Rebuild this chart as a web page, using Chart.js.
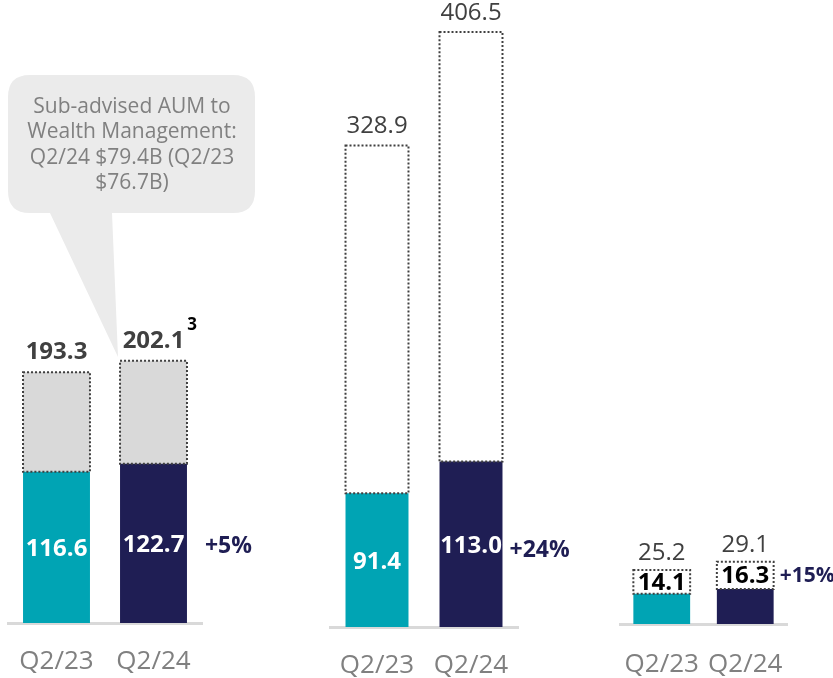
<!DOCTYPE html>
<html>
<head>
<meta charset="utf-8">
<script src="https://cdn.jsdelivr.net/npm/chart.js@4.4.1/dist/chart.umd.min.js"></script>
<style>
  html, body { margin: 0; padding: 0; background: #ffffff; }
  body { width: 833px; height: 678px; position: relative; overflow: hidden; }
  .panel { position: absolute; top: 0; height: 678px; }
</style>
</head>
<body>
<div class="panel" style="left:0;width:300px;"><canvas id="c1"></canvas></div>
<div class="panel" style="left:300px;width:300px;"><canvas id="c2"></canvas></div>
<div class="panel" style="left:600px;width:233px;"><canvas id="c3"></canvas></div>
<script>
// ---- data ----
const categories = ['Q2/23', 'Q2/24'];
const wealthBase = [116.6, 122.7];
const wealthTotal = [193.3, 202.1];
const instBase = [91.4, 113.0];
const instTotal = [328.9, 406.5];
const retailBase = [14.1, 16.3];
const retailTotal = [25.2, 29.1];
const growthLabels = ['+5%', '+24%', '+15%'];
const calloutLines = ['Sub-advised AUM to', 'Wealth Management:', 'Q2/24 $79.4B (Q2/23', '$76.7B)'];
const footnoteMark = '3';
const clippedHeader = 'investments';

const TEAL = '#00a4b4';
const NAVY = '#1f1e54';
const FONT = "'Open Sans', 'DejaVu Sans', sans-serif";

function dottedRect(ctx, x0, y0, x1, y1) {
  ctx.save();
  ctx.strokeStyle = '#404040';
  ctx.lineWidth = 2;
  ctx.setLineDash([2, 2]);
  ctx.strokeRect(x0, y0, x1 - x0, y1 - y0);
  ctx.restore();
}

function makePanel(id, cfg) {
  const topVals = cfg.total.map((t, i) => +(t - cfg.base[i]).toFixed(1));
  const labelPlugin = {
    id: 'labels_' + id,
    beforeDatasetsDraw(chart) {
      if (cfg.before) cfg.before(chart.ctx, chart);
    },
    afterDatasetsDraw(chart) {
      const ctx = chart.ctx;
      const m0 = chart.getDatasetMeta(0).data;
      const m1 = chart.getDatasetMeta(1).data;
      m0.forEach((b, i) => {
        const t = m1[i];
        const x0 = b.x - b.width / 2, x1 = b.x + b.width / 2;
        dottedRect(ctx, x0, t.y, x1, t.base);
        ctx.save();
        ctx.textAlign = 'center';
        ctx.textBaseline = 'middle';
        // inner label
        if (cfg.innerInTop) {
          ctx.fillStyle = '#000000';
          ctx.font = 'bold 24px ' + FONT;
          ctx.fillText(cfg.base[i].toFixed(1), b.x, (t.y + t.base) / 2 + 1);
        } else {
          ctx.fillStyle = '#ffffff';
          ctx.font = 'bold 24px ' + FONT;
          ctx.fillText(cfg.base[i].toFixed(1), b.x, (b.y + b.base) / 2 + 2);
        }
        // total label
        ctx.fillStyle = '#404040';
        ctx.font = cfg.totalFont;
        const tl = cfg.total[i].toFixed(1);
        ctx.fillText(tl, b.x, t.y - cfg.totalGap);
        if (cfg.footnote && i === 1) {
          const w = ctx.measureText(tl).width;
          ctx.font = 'bold 17px ' + FONT;
          ctx.fillStyle = '#000000';
          ctx.textAlign = 'left';
          ctx.fillText(footnoteMark, b.x + w / 2 + 3, t.y - cfg.totalGap - 16);
        }
        ctx.restore();
      });
      // growth label
      const nb = m0[1], nt = m1[1];
      ctx.save();
      ctx.fillStyle = NAVY;
      ctx.font = 'bold ' + cfg.growthSize + 'px ' + FONT;
      ctx.textAlign = 'left';
      ctx.textBaseline = 'middle';
      const gy = cfg.growthInTop ? (nt.y + nt.base) / 2 + 1 : (nb.y + nb.base) / 2 + cfg.growthDy;
      ctx.fillText(cfg.growth, nb.x + nb.width / 2 + cfg.growthDx, gy);
      ctx.restore();
    }
  };
  return new Chart(document.getElementById(id), {
    type: 'bar',
    data: {
      labels: categories,
      datasets: [
        { data: cfg.base, backgroundColor: [TEAL, NAVY], borderWidth: 0 },
        { data: topVals, backgroundColor: cfg.topFill, borderWidth: 0 }
      ]
    },
    options: {
      responsive: true,
      maintainAspectRatio: false,
      animation: false,
      events: [],
      datasets: { bar: { categoryPercentage: 1, barPercentage: cfg.barPct } },
      layout: { padding: { left: cfg.padL, right: cfg.padR, top: 0, bottom: 0 } },
      plugins: { legend: { display: false }, tooltip: { enabled: false } },
      scales: {
        x: {
          stacked: true,
          grid: { display: false, drawTicks: false },
          border: { display: true, color: '#d9d9d9', width: 3 },
          ticks: {
            color: '#808080',
            font: { family: FONT, size: 26, lineHeight: 1.0 },
            padding: cfg.tickPad,
            maxRotation: 0,
            autoSkip: false
          },
          afterFit(scale) {
            scale.height = cfg.axisH;
            scale.paddingLeft = 0;
            scale.paddingRight = 0;
          }
        },
        y: { stacked: true, display: false, min: 0, max: cfg.yMax }
      }
    },
    plugins: [labelPlugin]
  });
}

// Panel 1: callout bubble drawn behind
function drawCallout(ctx) {
  ctx.save();
  ctx.fillStyle = '#ebebeb';
  const x = 8, y = 75, w = 247, h = 138, r = 22;
  ctx.beginPath();
  ctx.moveTo(x + r, y);
  ctx.lineTo(x + w - r, y);
  ctx.quadraticCurveTo(x + w, y, x + w, y + r);
  ctx.lineTo(x + w, y + h - r);
  ctx.quadraticCurveTo(x + w, y + h, x + w - r, y + h);
  ctx.lineTo(112, y + h);
  ctx.lineTo(118, 357);
  ctx.lineTo(50, y + h);
  ctx.lineTo(x + r, y + h);
  ctx.quadraticCurveTo(x, y + h, x, y + h - r);
  ctx.lineTo(x, y + r);
  ctx.quadraticCurveTo(x, y, x + r, y);
  ctx.closePath();
  ctx.fill();
  ctx.fillStyle = '#808080';
  ctx.font = '21px ' + FONT;
  ctx.textAlign = 'center';
  ctx.textBaseline = 'middle';
  calloutLines.forEach((l, i) => ctx.fillText(l, 132, 107 + i * 25.5));
  ctx.fillStyle = '#9aa0bf';
  ctx.font = '12px ' + FONT;
  ctx.textAlign = 'left';
  ctx.textBaseline = 'alphabetic';
  ctx.fillText(clippedHeader, 50, 0);
  ctx.restore();
}

makePanel('c1', {
  base: wealthBase, total: wealthTotal, topFill: '#d9d9d9',
  barPct: 0.69, padL: 8, padR: 98, tickPad: 26, axisH: 55, yMax: 480.3,
  totalFont: 'bold 24px ' + FONT, totalGap: 20, footnote: true,
  growth: growthLabels[0], growthSize: 23, growthDx: 18, growthDy: 3, before: drawCallout
});
makePanel('c2', {
  base: instBase, total: instTotal, topFill: '#ffffff',
  barPct: 0.67, padL: 30, padR: 82, tickPad: 26, axisH: 51, yMax: 428.3,
  totalFont: '24px ' + FONT, totalGap: 19,
  growth: growthLabels[1], growthSize: 23, growthDx: 7, growthDy: 6
});
makePanel('c3', {
  base: retailBase, total: retailTotal, topFill: '#ffffff',
  barPct: 0.68, padL: 20, padR: 46, tickPad: 28, axisH: 54, yMax: 291.6,
  totalFont: '24px ' + FONT, totalGap: 17, innerInTop: true, growthInTop: true,
  growth: growthLabels[2], growthSize: 21, growthDx: 6
});
</script>
</body>
</html>
